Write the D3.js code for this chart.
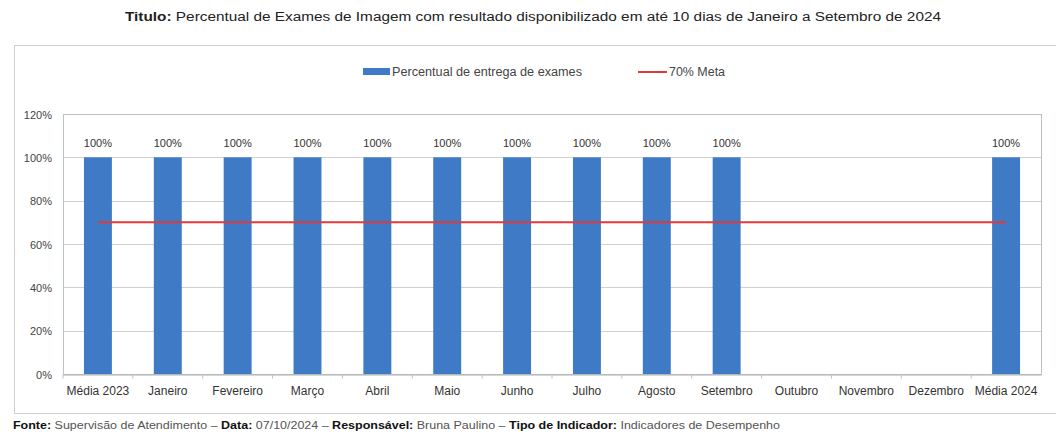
<!DOCTYPE html>
<html>
<head>
<meta charset="utf-8">
<script src="https://cdn.jsdelivr.net/npm/d3@7"></script>
<style>
  body { margin: 0; background: #fff; }
  text { font-family: "Liberation Sans", Arial, sans-serif; }
</style>
</head>
<body>
<script>
// dados do grafico
var categories = ["Média 2023", "Janeiro", "Fevereiro", "Março", "Abril", "Maio", "Junho",
  "Julho", "Agosto", "Setembro", "Outubro", "Novembro", "Dezembro", "Média 2024"];
var entrega = [100, 100, 100, 100, 100, 100, 100, 100, 100, 100, null, null, null, 100];
var meta = 70;
var yTicks = [0, 20, 40, 60, 80, 100, 120];

function main() {
  var width = 1056, height = 432;
  var plot = { left: 63, right: 1041, top: 114, bottom: 374 };

  var svg = d3.select("body").append("svg")
    .attr("width", width)
    .attr("height", height);

  // titulo
  var title = svg.append("text")
    .attr("x", 125).attr("y", 21)
    .attr("font-size", 12)
    .attr("fill", "#222")
    .attr("textLength", 816)
    .attr("lengthAdjust", "spacingAndGlyphs");
  title.append("tspan").attr("font-weight", "bold").text("Titulo:");
  title.append("tspan").text(" Percentual de Exames de Imagem com resultado disponibilizado em até 10 dias de Janeiro a Setembro de 2024");

  // moldura do grafico
  svg.append("rect")
    .attr("x", 14.5).attr("y", 45.5)
    .attr("width", 1070).attr("height", 368)
    .attr("fill", "none")
    .attr("stroke", "#cfcfcf");

  var x = d3.scaleBand()
    .domain(categories)
    .range([plot.left, plot.right])
    .paddingInner(0.6)
    .paddingOuter(0.3);

  var y = d3.scaleLinear()
    .domain([0, 120])
    .range([plot.bottom, plot.top]);

  // grade
  svg.append("g").selectAll("line")
    .data(yTicks)
    .enter().append("line")
    .attr("x1", plot.left).attr("x2", plot.right)
    .attr("y1", function (d) { return Math.round(y(d)) + 0.5; })
    .attr("y2", function (d) { return Math.round(y(d)) + 0.5; })
    .attr("stroke", "#d0d0d0");

  // borda da area de plotagem
  svg.append("rect")
    .attr("x", plot.left + 0.5).attr("y", Math.round(y(120)) + 0.5)
    .attr("width", plot.right - plot.left)
    .attr("height", Math.round(y(0)) - Math.round(y(120)))
    .attr("fill", "none")
    .attr("stroke", "#b8c4c8");

  // eixo y
  var yAxis = d3.axisLeft(y)
    .tickValues(yTicks)
    .tickSize(0)
    .tickPadding(11)
    .tickFormat(function (d) { return d + "%"; });
  var gy = svg.append("g")
    .attr("transform", "translate(" + plot.left + ",0.5)")
    .call(yAxis);
  gy.select(".domain").remove();
  gy.selectAll("text")
    .attr("font-size", 11)
    .attr("fill", "#444")
    .style("font-family", "'Liberation Sans', Arial, sans-serif");

  // eixo x
  var step = x.step();
  var xAxis = d3.axisBottom(x).tickSize(0).tickPadding(12);
  var gx = svg.append("g")
    .attr("transform", "translate(0," + (Math.round(y(0)) + 0.5) + ")")
    .call(xAxis);
  gx.select(".domain").attr("stroke", "#b0b0b0");
  gx.selectAll("text")
    .attr("font-size", 12)
    .attr("fill", "#333")
    .style("font-family", "'Liberation Sans', Arial, sans-serif");
  gx.selectAll(".tick").append("line")
    .attr("x1", -step / 2).attr("x2", -step / 2)
    .attr("y1", 0).attr("y2", 4)
    .attr("stroke", "#c0c0c0");

  // barras
  var bars = categories.map(function (c, i) { return { cat: c, v: entrega[i] }; })
    .filter(function (d) { return d.v != null; });

  svg.append("g").selectAll("rect")
    .data(bars)
    .enter().append("rect")
    .attr("x", function (d) { return x(d.cat); })
    .attr("y", function (d) { return y(d.v); })
    .attr("width", x.bandwidth())
    .attr("height", function (d) { return y(0) - y(d.v); })
    .attr("fill", "#3f7ac6");

  svg.append("g").selectAll("text")
    .data(bars)
    .enter().append("text")
    .attr("x", function (d) { return x(d.cat) + x.bandwidth() / 2; })
    .attr("y", function (d) { return y(d.v) - 10; })
    .attr("text-anchor", "middle")
    .attr("font-size", 11)
    .attr("fill", "#333")
    .text(function (d) { return d.v + "%"; });

  // linha de meta
  var line = d3.line()
    .x(function (d) { return x(d) + x.bandwidth() / 2; })
    .y(function () { return y(meta); });
  svg.append("path")
    .datum(categories)
    .attr("d", line)
    .attr("fill", "none")
    .attr("stroke", "#e03a3a")
    .attr("stroke-width", 2);

  // legenda
  var lg = svg.append("g");
  lg.append("rect")
    .attr("x", 363).attr("y", 68)
    .attr("width", 27).attr("height", 7)
    .attr("fill", "#3f7ac6");
  lg.append("text")
    .attr("x", 392).attr("y", 76)
    .attr("font-size", 12)
    .attr("fill", "#444")
    .attr("textLength", 190)
    .attr("lengthAdjust", "spacingAndGlyphs")
    .text("Percentual de entrega de exames");
  lg.append("line")
    .attr("x1", 638).attr("x2", 667)
    .attr("y1", 72).attr("y2", 72)
    .attr("stroke", "#e03a3a")
    .attr("stroke-width", 2);
  lg.append("text")
    .attr("x", 669).attr("y", 76)
    .attr("font-size", 12)
    .attr("fill", "#444")
    .attr("textLength", 56)
    .attr("lengthAdjust", "spacingAndGlyphs")
    .text("70% Meta");

  // rodape
  var foot = svg.append("text")
    .attr("x", 13).attr("y", 429)
    .attr("font-size", 10)
    .attr("fill", "#555")
    .attr("textLength", 767)
    .attr("lengthAdjust", "spacingAndGlyphs");
  var parts = [["Fonte:", true], [" Supervisão de Atendimento – ", false], ["Data:", true],
    [" 07/10/2024 – ", false], ["Responsável:", true], [" Bruna Paulino – ", false],
    ["Tipo de Indicador:", true], [" Indicadores de Desempenho", false]];
  parts.forEach(function (p) {
    foot.append("tspan")
      .attr("font-weight", p[1] ? "bold" : "normal")
      .attr("fill", p[1] ? "#111" : "#555")
      .text(p[0]);
  });
}
document.addEventListener("DOMContentLoaded", main);
</script>
</body>
</html>
